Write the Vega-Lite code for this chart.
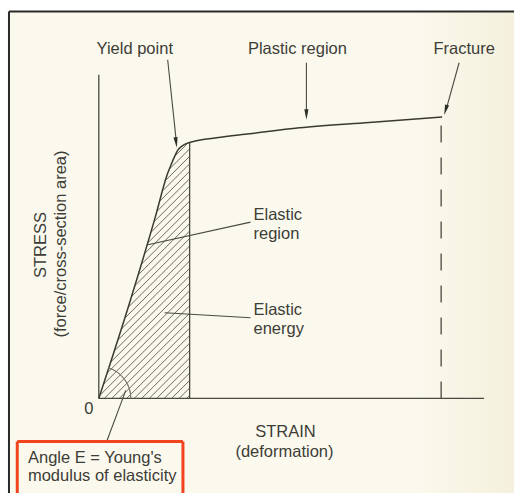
{
  "$schema": "https://vega.github.io/schema/vega-lite/v6.json",
  "width": 515,
  "height": 495,
  "autosize": {"type": "fit", "contains": "padding"},
  "padding": 0,
  "background": "#ffffff",
  "config": {
    "view": {"stroke": null},
    "text": {"font": "Liberation Sans", "fontSize": 16.5, "color": "#3d3d38"}
  },
  "datasets": {
    "bg": [{"x": -9.0, "x2": 41.6, "y": -9.5, "y2": 38.85}],
    "hatch": [
      {"x": 8.8, "y": 0, "x2": 9.1, "y2": 0.3},
      {"x": 8.05, "y": 0, "x2": 9.1, "y2": 1.05},
      {"x": 7.3, "y": 0, "x2": 9.1, "y2": 1.8},
      {"x": 6.55, "y": 0, "x2": 9.1, "y2": 2.55},
      {"x": 5.8, "y": 0, "x2": 9.1, "y2": 3.3},
      {"x": 5.05, "y": 0, "x2": 9.1, "y2": 4.05},
      {"x": 4.3, "y": 0, "x2": 9.1, "y2": 4.8},
      {"x": 3.55, "y": 0, "x2": 9.1, "y2": 5.55},
      {"x": 2.8, "y": 0, "x2": 9.1, "y2": 6.3},
      {"x": 2.05, "y": 0, "x2": 9.1, "y2": 7.05},
      {"x": 1.3, "y": 0, "x2": 9.1, "y2": 7.8},
      {"x": 0.55, "y": 0, "x2": 9.1, "y2": 8.55},
      {"x": 0, "y": 0.2, "x2": 9.1, "y2": 9.3},
      {"x": 0, "y": 0.95, "x2": 9.1, "y2": 10.05},
      {"x": 0, "y": 1.7, "x2": 9.1, "y2": 10.8},
      {"x": 0, "y": 2.45, "x2": 9.1, "y2": 11.55},
      {"x": 0, "y": 3.2, "x2": 9.1, "y2": 12.3},
      {"x": 0, "y": 3.95, "x2": 9.1, "y2": 13.05},
      {"x": 0, "y": 4.7, "x2": 9.1, "y2": 13.8},
      {"x": 0, "y": 5.45, "x2": 9.1, "y2": 14.55},
      {"x": 0, "y": 6.2, "x2": 9.1, "y2": 15.3},
      {"x": 0, "y": 6.95, "x2": 9.1, "y2": 16.05},
      {"x": 0, "y": 7.7, "x2": 9.1, "y2": 16.8},
      {"x": 0, "y": 8.45, "x2": 9.1, "y2": 17.55},
      {"x": 0, "y": 9.2, "x2": 9.1, "y2": 18.3},
      {"x": 0, "y": 9.95, "x2": 9.1, "y2": 19.05},
      {"x": 0, "y": 10.7, "x2": 9.1, "y2": 19.8},
      {"x": 0, "y": 11.45, "x2": 9.1, "y2": 20.55},
      {"x": 0, "y": 12.2, "x2": 9.1, "y2": 21.3},
      {"x": 0, "y": 12.95, "x2": 9.1, "y2": 22.05},
      {"x": 0, "y": 13.7, "x2": 9.1, "y2": 22.8},
      {"x": 0, "y": 14.45, "x2": 9.1, "y2": 23.55},
      {"x": 0, "y": 15.2, "x2": 9.1, "y2": 24.3},
      {"x": 0, "y": 15.95, "x2": 9.1, "y2": 25.05},
      {"x": 0, "y": 16.7, "x2": 9.0, "y2": 25.7}
    ],
    "elastic": [
      {"x": 0, "y": 0},
      {"x": 2.9, "y": 9.0},
      {"x": 5.6, "y": 18.0},
      {"x": 6.9, "y": 22.6},
      {"x": 7.3, "y": 23.6},
      {"x": 7.6, "y": 24.3},
      {"x": 7.9, "y": 24.9},
      {"x": 8.3, "y": 25.3},
      {"x": 8.7, "y": 25.55},
      {"x": 9.1, "y": 25.7}
    ],
    "curve": [
      {"x": 0, "y": 0},
      {"x": 2.9, "y": 9.0},
      {"x": 5.6, "y": 18.0},
      {"x": 6.9, "y": 22.6},
      {"x": 7.3, "y": 23.6},
      {"x": 7.6, "y": 24.3},
      {"x": 7.9, "y": 24.9},
      {"x": 8.3, "y": 25.3},
      {"x": 8.7, "y": 25.55},
      {"x": 9.1, "y": 25.7},
      {"x": 11.8, "y": 26.17},
      {"x": 15.1, "y": 26.57},
      {"x": 20.1, "y": 27.17},
      {"x": 27.1, "y": 27.71},
      {"x": 34.4, "y": 28.25}
    ],
    "fracture": [{"x": 34.3, "y": 0, "x2": 34.3, "y2": 28.2}],
    "axes": [
      {"x": 0, "y": 0, "x2": 0, "y2": 32.5},
      {"x": 0, "y": 0, "x2": 38.6, "y2": 0},
      {"x": 9.1, "y": 0, "x2": 9.1, "y2": 25.7}
    ],
    "leaders": [
      {"x": 4.8, "y": 15.4, "x2": 15.2, "y2": 17.7},
      {"x": 6.6, "y": 8.6, "x2": 15.2, "y2": 8.1},
      {"x": 2.7, "y": 0.8, "x2": 0.8, "y2": -4.3},
      {"x": 6.9, "y": 34.0, "x2": 7.75, "y2": 25.9},
      {"x": 20.8, "y": 33.7, "x2": 20.8, "y2": 28.6},
      {"x": 36.1, "y": 33.7, "x2": 34.8, "y2": 29.0}
    ],
    "headYield": [{"x": 7.75, "y": 25.7}],
    "headPlastic": [{"x": 20.8, "y": 28.5}],
    "headFracture": [{"x": 34.75, "y": 28.95}],
    "origin": [{"x": 0, "y": 0}],
    "frame": [
      {"x": -9.0, "y": 38.85, "x2": 41.6, "y2": 38.85},
      {"x": -9.0, "y": 38.85, "x2": -9.0, "y2": -9.5}
    ],
    "box": [
      {"x": -8.17, "y": -4.33, "x2": 8.43, "y2": -4.33},
      {"x": -8.17, "y": -4.33, "x2": -8.17, "y2": -9.5},
      {"x": 8.43, "y": -4.33, "x2": 8.43, "y2": -9.5}
    ],
    "labelsC": [
      {"x": 3.6, "y": 34.6, "t": "Yield point"},
      {"x": 19.9, "y": 34.6, "t": "Plastic region"},
      {"x": 36.6, "y": 34.6, "t": "Fracture"},
      {"x": -1.0, "y": -1.6, "t": "0"},
      {"x": 18.7, "y": -3.9, "t": "STRAIN"},
      {"x": 18.6, "y": -5.9, "t": "(deformation)"}
    ],
    "labelsL": [
      {"x": 15.5, "y": 17.9, "t": "Elastic"},
      {"x": 15.5, "y": 16.0, "t": "region"},
      {"x": 15.5, "y": 8.35, "t": "Elastic"},
      {"x": 15.5, "y": 6.5, "t": "energy"},
      {"x": -7.1, "y": -6.5, "t": "Angle E = Young's"},
      {"x": -7.1, "y": -8.3, "t": "modulus of elasticity"}
    ],
    "labelsR": [
      {"x": -5.3, "y": 15.4, "t": "STRESS"},
      {"x": -3.3, "y": 15.5, "t": "(force/cross-section area)"}
    ]
  },
  "encoding": {
    "x": {"field": "x", "type": "quantitative", "scale": {"domain": [-9.9, 41.6], "nice": false, "zero": false}, "axis": null},
    "y": {"field": "y", "type": "quantitative", "scale": {"domain": [-9.5, 40], "nice": false, "zero": false}, "axis": null}
  },
  "layer": [
    {
      "data": {"name": "bg"},
      "mark": {
        "type": "rect",
        "fill": {
          "gradient": "linear", "x1": 0, "y1": 0, "x2": 1, "y2": 0,
          "stops": [
            {"offset": 0, "color": "#fbf9ed"},
            {"offset": 0.8, "color": "#fbf9ed"},
            {"offset": 1, "color": "#f4f0dd"}
          ]
        }
      },
      "encoding": {"x2": {"field": "x2"}, "y2": {"field": "y2"}}
    },
    {
      "data": {"name": "hatch"},
      "mark": {"type": "rule", "stroke": "#5d5c4e", "strokeWidth": 0.9},
      "encoding": {"x2": {"field": "x2"}, "y2": {"field": "y2"}}
    },
    {
      "data": {"name": "elastic"},
      "mark": {"type": "area", "orient": "horizontal", "fill": "#fbf9ed", "opacity": 1},
      "encoding": {"x2": {"datum": 0}}
    },
    {
      "data": {"name": "axes"},
      "mark": {"type": "rule", "stroke": "#4a4a40", "strokeWidth": 1.3},
      "encoding": {"x2": {"field": "x2"}, "y2": {"field": "y2"}}
    },
    {
      "data": {"name": "curve"},
      "mark": {"type": "line", "stroke": "#3a3a30", "strokeWidth": 1.5, "interpolate": "monotone"},
      "encoding": {}
    },
    {
      "data": {"name": "fracture"},
      "mark": {"type": "rule", "stroke": "#4a4a40", "strokeWidth": 1.3, "strokeDash": [17, 15]},
      "encoding": {"x2": {"field": "x2"}, "y2": {"field": "y2"}}
    },
    {
      "data": {"name": "leaders"},
      "mark": {"type": "rule", "stroke": "#4a4a40", "strokeWidth": 1.1},
      "encoding": {"x2": {"field": "x2"}, "y2": {"field": "y2"}}
    },
    {
      "data": {"name": "headYield"},
      "mark": {"type": "point", "shape": "M-0.4,-1L0.4,-1L0,1Z", "size": 110, "filled": true, "fill": "#2e2e28", "opacity": 1, "angle": -7},
      "encoding": {}
    },
    {
      "data": {"name": "headPlastic"},
      "mark": {"type": "point", "shape": "M-0.4,-1L0.4,-1L0,1Z", "size": 110, "filled": true, "fill": "#2e2e28", "opacity": 1, "angle": 0},
      "encoding": {}
    },
    {
      "data": {"name": "headFracture"},
      "mark": {"type": "point", "shape": "M-0.4,-1L0.4,-1L0,1Z", "size": 110, "filled": true, "fill": "#2e2e28", "opacity": 1, "angle": 16},
      "encoding": {}
    },
    {
      "data": {"name": "origin"},
      "mark": {"type": "arc", "theta": 0.3, "theta2": 1.5708, "radius": 32, "radius2": 32, "fill": null, "stroke": "#7a796a", "strokeWidth": 1},
      "encoding": {}
    },
    {
      "data": {"name": "frame"},
      "mark": {"type": "rule", "stroke": "#2a2a2a", "strokeWidth": 2},
      "encoding": {"x2": {"field": "x2"}, "y2": {"field": "y2"}}
    },
    {
      "data": {"name": "box"},
      "mark": {"type": "rule", "stroke": "#f2441e", "strokeWidth": 3},
      "encoding": {"x2": {"field": "x2"}, "y2": {"field": "y2"}}
    },
    {
      "data": {"name": "labelsC"},
      "mark": {"type": "text", "align": "center", "baseline": "alphabetic"},
      "encoding": {"text": {"field": "t"}}
    },
    {
      "data": {"name": "labelsL"},
      "mark": {"type": "text", "align": "left", "baseline": "alphabetic"},
      "encoding": {"text": {"field": "t"}}
    },
    {
      "data": {"name": "labelsR"},
      "mark": {"type": "text", "align": "center", "baseline": "alphabetic", "angle": 270},
      "encoding": {"text": {"field": "t"}}
    }
  ]
}
